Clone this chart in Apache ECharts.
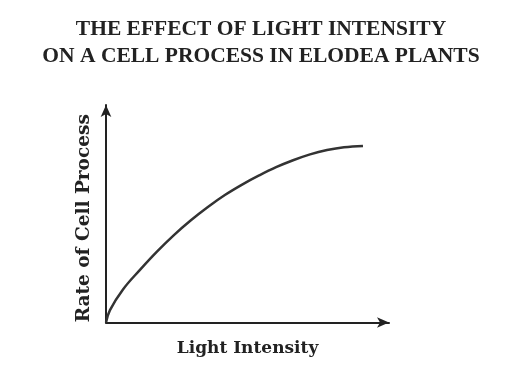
<!DOCTYPE html>
<html>
<head>
<meta charset="utf-8">
<script src="https://cdn.jsdelivr.net/npm/echarts@6/dist/echarts.min.js"></script>
<style>
html,body{margin:0;padding:0;background:#fff;}
#c{width:508px;height:390px;}
</style>
</head>
<body>
<div id="c"></div>
<script>
// Title lines
const titleLines = ["THE EFFECT OF LIGHT INTENSITY", "ON A CELL PROCESS IN ELODEA PLANTS"];
const xAxisTitle = "Light Intensity";
const yAxisTitle = "Rate of Cell Process";
// Curve (arbitrary units, 0–100 on each axis)
const lightIntensity = [0, 1.4, 6.0, 12.0, 18.0, 24.0, 30.0, 36.0, 42.0, 48.1, 54.1, 60.1, 66.1, 72.1, 78.1, 84.1, 90.8];
const processRate   = [0, 5.7, 15.2, 24.2, 32.6, 40.2, 47.0, 53.1, 58.6, 63.4, 67.6, 71.4, 74.6, 77.3, 79.3, 80.6, 81.2];

const TITLE_FONT = '"Liberation Serif", "DejaVu Serif", serif';
const LABEL_FONT = '"DejaVu Serif", "Liberation Serif", serif';
const chart = echarts.init(document.getElementById('c'), null, {renderer: 'canvas'});
chart.setOption({
  animation: false,
  backgroundColor: '#ffffff',
  title: {
    text: titleLines.join('\n'),
    left: 261,
    textAlign: 'center',
    top: 16,
    padding: 0,
    textStyle: {fontFamily: TITLE_FONT, fontSize: 21.5, fontWeight: 'bold', color: '#222', lineHeight: 27}
  },
  grid: {left: 106, top: 105, width: 283, height: 217.5, containLabel: false},
  xAxis: {
    type: 'value', min: 0, max: 100,
    name: xAxisTitle, nameLocation: 'middle', nameGap: 18,
    nameTextStyle: {fontFamily: LABEL_FONT, fontSize: 17, fontWeight: 'bold', color: '#222'},
    axisLine: {show: true, symbol: ['none', 'arrow'], symbolSize: [8, 12], symbolOffset: [0, 0], lineStyle: {color: '#222', width: 2}},
    axisTick: {show: false}, axisLabel: {show: false}, splitLine: {show: false}
  },
  yAxis: {
    type: 'value', min: 0, max: 100,
    name: yAxisTitle, nameLocation: 'middle', nameGap: 12, nameRotate: 90,
    nameTextStyle: {fontFamily: LABEL_FONT, fontSize: 18.5, fontWeight: 'bold', color: '#222', padding: [0, 9, 0, 0]},
    axisLine: {show: true, symbol: ['none', 'arrow'], symbolSize: [8, 12], symbolOffset: [0, 0], lineStyle: {color: '#222', width: 2}},
    axisTick: {show: false}, axisLabel: {show: false}, splitLine: {show: false}
  },
  series: [{
    type: 'line',
    data: lightIntensity.map((x, i) => [x, processRate[i]]),
    smooth: 0.4,
    showSymbol: false,
    lineStyle: {color: '#333', width: 2.5},
    silent: true
  }]
});
</script>
</body>
</html>
